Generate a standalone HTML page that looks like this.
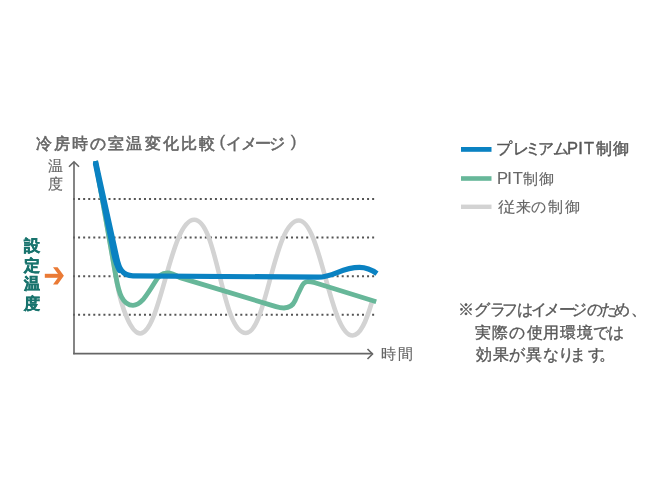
<!DOCTYPE html>
<html lang="ja">
<head>
<meta charset="utf-8">
<style>
html,body{margin:0;padding:0;background:#fff;}
body{width:660px;height:495px;position:relative;overflow:hidden;font-family:"Liberation Sans",sans-serif;color:#666;}
.t{position:absolute;white-space:nowrap;line-height:1;}
#title{left:35.5px;top:134.5px;font-size:16px;letter-spacing:2.2px;color:#666;-webkit-text-stroke:0.6px #666;}
#title .k{letter-spacing:-1.8px;}
#title .p1,#title .p2{font-size:17px;-webkit-text-stroke:0.3px #666;position:relative;top:-1.5px;}
#title .p1{margin-left:2px;margin-right:-1px}
#title .p2{margin-left:7.5px}
#ylab{left:48px;top:159px;font-size:14px;line-height:17.5px;width:16px;white-space:normal;color:#666;}
#xlab{left:382px;top:347px;font-size:14px;letter-spacing:2.5px;color:#666;}
#set{left:24px;top:238px;font-size:15px;line-height:19px;width:16px;white-space:normal;font-weight:bold;color:#17706b;}
.lg{left:498px;font-size:15px;letter-spacing:1.5px;color:#666;}
#lg1{top:141px;font-weight:bold;color:#5a5a5a;}
#lg2{top:171px;}
#lg3{top:199px;}
.note{left:460px;font-size:14px;color:#666;}
#n1{top:302px;letter-spacing:0px;}
#n2{top:324px;left:476px;letter-spacing:2.3px;}
#n3{top:347px;left:476px;letter-spacing:2.3px;}
svg{position:absolute;left:0;top:0;}
.g{position:absolute;white-space:nowrap;line-height:1;}
.wrap{position:absolute;left:0;top:0;width:660px;height:495px;will-change:transform;}
</style>
</head>
<body>
<svg width="660" height="495" viewBox="0 0 660 495">
  <!-- dotted grid lines -->
  <g stroke="#555" stroke-width="2" stroke-dasharray="2 3.07" fill="none">
    <line x1="73" y1="199" x2="375" y2="199"/>
    <line x1="73" y1="237.5" x2="375" y2="237.5"/>
    <line x1="73" y1="276.3" x2="375" y2="276.3"/>
    <line x1="73" y1="314.8" x2="375" y2="314.8"/>
  </g>
  <!-- axes -->
  <g stroke="#666" stroke-width="1.6" fill="none">
    <line x1="74" y1="162.2" x2="74" y2="354.3"/>
    <line x1="73.2" y1="353.6" x2="372.5" y2="353.6"/>
    <polyline points="69,166.8 74,161.8 79,166.8"/>
    <polyline points="367.5,349 372.5,354 367.5,359"/>
  </g>
  <!-- grey conventional -->
  <path id="grey" fill="none" stroke="#d3d3d3" stroke-width="4.6" stroke-linejoin="round"
    d="M95.5,161 L117,283 C121.4,308 131.2,333.5 140.2,333.5 C160.45,333.50 170.49,219.80 194.20,219.80 C217.67,219.80 221.60,333.00 245.90,333.00 C266.48,333.00 273.94,220.50 298.80,220.50 C320.75,220.50 330.11,335.50 352.60,335.50 C360.33,335.50 366.26,321.12 371.75,302.50"/>
  <!-- green PIT -->
  <path fill="none" stroke="#67b799" stroke-width="4.8" stroke-linejoin="round"
    d="M95.5,161 L116,277 C118.8,293 122.5,305.4 133,305.4 C137,305.4 140,303 143,299.7 C147,295 151,288.5 155,282 C158.5,276 161.5,273 167.5,273 C172,273 175.5,275 180,277.6 L276,306.6 C281.5,308.3 291,309.8 295,300.8 C297,296 299.2,291.5 301.3,287.3 C302.7,284.2 304.4,281.7 307.8,281.7 C310,281.7 312,282 315,282.7 L376.2,301.8"/>
  <!-- blue premium -->
  <path fill="none" stroke="#0a82c2" stroke-width="5.2" stroke-linecap="round" d="M95.5,164 L112.8,248 C114,256 116,264 119.5,270.5"/>
  <path fill="none" stroke="#0a82c2" stroke-width="5.2" stroke-linejoin="round"
    d="M95.5,161 L116.8,258 C119,268 122,275.8 133,275.8 L318,277.2 C334,277.2 341,267.4 359.5,267.4 C367,267.4 372,270 377,273.6"/>
  <!-- orange arrow -->
  <g fill="#ea7a35">
    <rect x="44.8" y="273.8" width="15.5" height="4"/>
    <polygon points="53,267.2 57.6,267.2 63.9,275.8 57.6,284.6 53,284.6 59.3,275.8"/>
  </g>
  <!-- legend lines -->
  <rect x="461" y="147" width="30.5" height="4.8" fill="#0a82c2"/>
  <rect x="461" y="176.2" width="30.5" height="4.6" fill="#67b799"/>
  <rect x="461" y="204.6" width="30.5" height="4.4" fill="#d3d3d3"/>
</svg>
<div class="wrap"><div class="t" id="title">冷房時の室温変化比較<span class="p1">(</span><span class="k">イメージ</span><span class="p2">)</span></div>
<!--TEXT-->
<div class="g" style="left:47.8px;top:158.4px;font-size:15px;font-weight:normal;color:#666;-webkit-text-stroke:0.15px #666">温</div>
<div class="g" style="left:47.8px;top:175.8px;font-size:15px;font-weight:normal;color:#666;-webkit-text-stroke:0.15px #666">度</div>
<div class="g" style="left:381.3px;top:346.3px;font-size:15px;font-weight:normal;color:#666;-webkit-text-stroke:0.15px #666">時</div>
<div class="g" style="left:398.0px;top:346.3px;font-size:15px;font-weight:normal;color:#666;-webkit-text-stroke:0.15px #666">間</div>
<div class="g" style="left:24.1px;top:238.2px;font-size:16px;font-weight:bold;color:#18736d;-webkit-text-stroke:0.5px #18736d">設</div>
<div class="g" style="left:24.1px;top:258.3px;font-size:16px;font-weight:bold;color:#18736d;-webkit-text-stroke:0.5px #18736d">定</div>
<div class="g" style="left:24.1px;top:275.5px;font-size:16px;font-weight:bold;color:#18736d;-webkit-text-stroke:0.5px #18736d">温</div>
<div class="g" style="left:24.1px;top:295.5px;font-size:16px;font-weight:bold;color:#18736d;-webkit-text-stroke:0.5px #18736d">度</div>
<div class="g" style="left:496.3px;top:141.4px;font-size:15.5px;font-weight:normal;color:#575757;-webkit-text-stroke:0.45px #575757">プ</div>
<div class="g" style="left:512.9px;top:141.4px;font-size:15.5px;font-weight:normal;color:#575757;-webkit-text-stroke:0.45px #575757">レ</div>
<div class="g" style="left:524.5px;top:141.4px;font-size:15.5px;font-weight:normal;color:#575757;-webkit-text-stroke:0.45px #575757">ミ</div>
<div class="g" style="left:537.9px;top:141.4px;font-size:15.5px;font-weight:normal;color:#575757;-webkit-text-stroke:0.45px #575757">ア</div>
<div class="g" style="left:553.0px;top:141.4px;font-size:15.5px;font-weight:normal;color:#575757;-webkit-text-stroke:0.45px #575757">ム</div>
<div class="g" style="left:596.4px;top:141.4px;font-size:15.5px;font-weight:normal;color:#575757;-webkit-text-stroke:0.45px #575757">制</div>
<div class="g" style="left:613.4px;top:141.4px;font-size:15.5px;font-weight:normal;color:#575757;-webkit-text-stroke:0.45px #575757">御</div>
<div class="g" style="left:567.0px;top:139.6px;font-size:16.5px;font-weight:normal;color:#575757;-webkit-text-stroke:0.4px #575757">P</div>
<div class="g" style="left:578.3px;top:139.6px;font-size:16.5px;font-weight:normal;color:#575757;-webkit-text-stroke:0.4px #575757">I</div>
<div class="g" style="left:583.9px;top:139.6px;font-size:16.5px;font-weight:normal;color:#575757;-webkit-text-stroke:0.4px #575757">T</div>
<div class="g" style="left:522.6px;top:170.9px;font-size:15px;font-weight:normal;color:#666;-webkit-text-stroke:0.15px #666">制</div>
<div class="g" style="left:539.3px;top:170.9px;font-size:15px;font-weight:normal;color:#666;-webkit-text-stroke:0.15px #666">御</div>
<div class="g" style="left:497.0px;top:169.9px;font-size:16.5px;font-weight:normal;color:#666;-webkit-text-stroke:0.15px #666">P</div>
<div class="g" style="left:507.3px;top:169.9px;font-size:16.5px;font-weight:normal;color:#666;-webkit-text-stroke:0.15px #666">I</div>
<div class="g" style="left:512.7px;top:169.9px;font-size:16.5px;font-weight:normal;color:#666;-webkit-text-stroke:0.15px #666">T</div>
<div class="g" style="left:497.7px;top:199.1px;font-size:15px;font-weight:normal;color:#666;-webkit-text-stroke:0.15px #666;transform:scaleX(1.18);transform-origin:0 0">従</div>
<div class="g" style="left:515.5px;top:199.1px;font-size:15px;font-weight:normal;color:#666;-webkit-text-stroke:0.15px #666">来</div>
<div class="g" style="left:530.8px;top:199.1px;font-size:15px;font-weight:normal;color:#666;-webkit-text-stroke:0.15px #666">の</div>
<div class="g" style="left:548.2px;top:199.1px;font-size:15px;font-weight:normal;color:#666;-webkit-text-stroke:0.15px #666">制</div>
<div class="g" style="left:564.6px;top:199.1px;font-size:15px;font-weight:normal;color:#666;-webkit-text-stroke:0.15px #666">御</div>
<div class="g" style="left:457.5px;top:302.3px;font-size:15.5px;font-weight:normal;color:#585858;-webkit-text-stroke:0.35px #585858">※</div>
<div class="g" style="left:473.5px;top:302.3px;font-size:15.5px;font-weight:normal;color:#585858;-webkit-text-stroke:0.35px #585858">グ</div>
<div class="g" style="left:490.1px;top:302.3px;font-size:15.5px;font-weight:normal;color:#585858;-webkit-text-stroke:0.35px #585858">ラ</div>
<div class="g" style="left:501.5px;top:302.3px;font-size:15.5px;font-weight:normal;color:#585858;-webkit-text-stroke:0.35px #585858">フ</div>
<div class="g" style="left:516.9px;top:302.3px;font-size:15.5px;font-weight:normal;color:#585858;-webkit-text-stroke:0.35px #585858">は</div>
<div class="g" style="left:531.0px;top:302.3px;font-size:15.5px;font-weight:normal;color:#585858;-webkit-text-stroke:0.35px #585858">イ</div>
<div class="g" style="left:544.0px;top:302.3px;font-size:15.5px;font-weight:normal;color:#585858;-webkit-text-stroke:0.35px #585858">メ</div>
<div class="g" style="left:559.0px;top:302.3px;font-size:15.5px;font-weight:normal;color:#585858;-webkit-text-stroke:0.35px #585858">ー</div>
<div class="g" style="left:570.5px;top:302.3px;font-size:15.5px;font-weight:normal;color:#585858;-webkit-text-stroke:0.35px #585858">ジ</div>
<div class="g" style="left:586.5px;top:302.3px;font-size:15.5px;font-weight:normal;color:#585858;-webkit-text-stroke:0.35px #585858">の</div>
<div class="g" style="left:600.7px;top:302.3px;font-size:15.5px;font-weight:normal;color:#585858;-webkit-text-stroke:0.35px #585858">た</div>
<div class="g" style="left:614.0px;top:302.3px;font-size:15.5px;font-weight:normal;color:#585858;-webkit-text-stroke:0.35px #585858">め</div>
<div class="g" style="left:631.3px;top:302.3px;font-size:15.5px;font-weight:normal;color:#585858;-webkit-text-stroke:0.35px #585858">、</div>
<div class="g" style="left:475.0px;top:324.5px;font-size:15.5px;font-weight:normal;color:#585858;-webkit-text-stroke:0.35px #585858">実</div>
<div class="g" style="left:492.0px;top:324.5px;font-size:15.5px;font-weight:normal;color:#585858;-webkit-text-stroke:0.35px #585858">際</div>
<div class="g" style="left:509.0px;top:324.5px;font-size:15.5px;font-weight:normal;color:#585858;-webkit-text-stroke:0.35px #585858">の</div>
<div class="g" style="left:527.0px;top:324.5px;font-size:15.5px;font-weight:normal;color:#585858;-webkit-text-stroke:0.35px #585858">使</div>
<div class="g" style="left:543.0px;top:324.5px;font-size:15.5px;font-weight:normal;color:#585858;-webkit-text-stroke:0.35px #585858">用</div>
<div class="g" style="left:559.7px;top:324.5px;font-size:15.5px;font-weight:normal;color:#585858;-webkit-text-stroke:0.35px #585858">環</div>
<div class="g" style="left:576.7px;top:324.5px;font-size:15.5px;font-weight:normal;color:#585858;-webkit-text-stroke:0.35px #585858">境</div>
<div class="g" style="left:592.6px;top:324.5px;font-size:15.5px;font-weight:normal;color:#585858;-webkit-text-stroke:0.35px #585858">で</div>
<div class="g" style="left:608.4px;top:324.5px;font-size:15.5px;font-weight:normal;color:#585858;-webkit-text-stroke:0.35px #585858">は</div>
<div class="g" style="left:476.0px;top:347.3px;font-size:15.5px;font-weight:normal;color:#585858;-webkit-text-stroke:0.35px #585858">効</div>
<div class="g" style="left:493.0px;top:347.3px;font-size:15.5px;font-weight:normal;color:#585858;-webkit-text-stroke:0.35px #585858">果</div>
<div class="g" style="left:509.0px;top:347.3px;font-size:15.5px;font-weight:normal;color:#585858;-webkit-text-stroke:0.35px #585858">が</div>
<div class="g" style="left:526.0px;top:347.3px;font-size:15.5px;font-weight:normal;color:#585858;-webkit-text-stroke:0.35px #585858">異</div>
<div class="g" style="left:543.0px;top:347.3px;font-size:15.5px;font-weight:normal;color:#585858;-webkit-text-stroke:0.35px #585858">な</div>
<div class="g" style="left:558.0px;top:347.3px;font-size:15.5px;font-weight:normal;color:#585858;-webkit-text-stroke:0.35px #585858">り</div>
<div class="g" style="left:570.0px;top:347.3px;font-size:15.5px;font-weight:normal;color:#585858;-webkit-text-stroke:0.35px #585858">ま</div>
<div class="g" style="left:587.6px;top:347.3px;font-size:15.5px;font-weight:normal;color:#585858;-webkit-text-stroke:0.35px #585858">す</div>
<div class="g" style="left:599.0px;top:347.3px;font-size:15.5px;font-weight:normal;color:#585858;-webkit-text-stroke:0.35px #585858">。</div>
<!--/TEXT-->
</div>
</body>
</html>
